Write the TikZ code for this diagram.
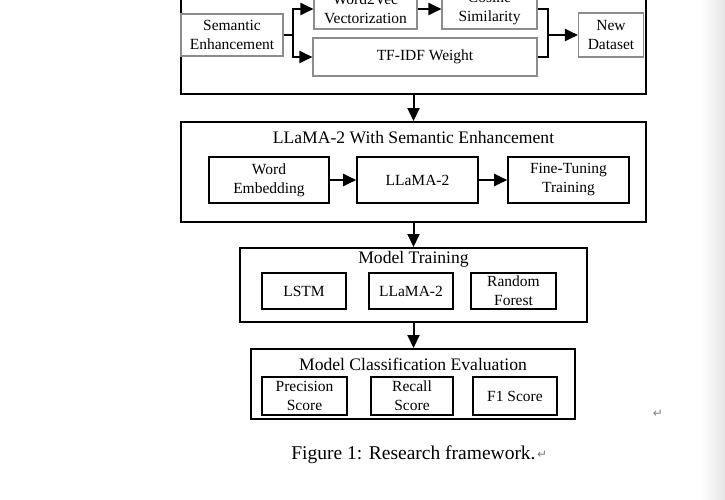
\documentclass[tikz,border=0pt]{standalone}
\usepackage{fontspec}
\setmainfont{Liberation Serif}
\newfontfamily\symfont{DejaVu Sans}
\usetikzlibrary{calc,positioning,arrows.meta}

\begin{document}
\begin{tikzpicture}[x=1pt,y=-1pt,
        stagebox/.style={draw,line width=2pt,inner sep=0pt},
        grbox/.style={draw=black!45,line width=1.1pt,inner sep=0pt,align=center,font=\fontsize{15.5}{19}\selectfont},
        blbox/.style={draw,line width=1.6pt,inner sep=0pt,align=center,font=\fontsize{15.5}{19}\selectfont},
        ttl/.style={inner sep=0pt,font=\fontsize{17.6}{20}\selectfont},
        ln/.style={line width=2pt},
        arr/.style={line width=2pt,-{Triangle[length=13pt,width=12pt]}}]
        \useasboundingbox (0,0) rectangle (725,499);
        \clip (0,0) rectangle (725,499);
        \shade[left color=white,right color=black!10] (700,0) rectangle (725,499);

        %第一部分
        \node[stagebox,minimum width=465pt,minimum height=148pt] (stage1) at (413.5,20) {};
        \node[grbox,minimum width=102pt,minimum height=42pt] (sem) at (232,35) {Semantic\\Enhancement};
        \node[grbox,minimum width=103pt,minimum height=40pt] (w2v) at (365.5,9) {Word2Vec\\Vectorization};
        \node[grbox,minimum width=95pt,minimum height=40pt] (cos) at (489.5,9) {Cosine\\Similarity};
        \node[grbox,minimum width=224pt,minimum height=38pt] (tfidf) at (425,57) {TF-IDF Weight};
        \node[grbox,minimum width=65pt,minimum height=44pt] (newds) at (611,35) {New\\Dataset};
        \coordinate (sj) at (293,35);
        \coordinate (dj) at (548,35);
        \draw[ln] (sem.east) -- (sj);
        \draw[arr] (sj) |- (w2v.west);
        \draw[arr] (sj) |- (tfidf.west);
        \draw[arr] (w2v) -- (cos);
        \draw[ln] (cos.east) -| (dj);
        \draw[ln] (tfidf.east) -| (dj);
        \draw[arr] (dj) -- (newds.west);

        %第二部分
        \node[stagebox,minimum width=465pt,minimum height=100pt] (stage2) at (413.5,172) {};
        \node[ttl] (t2) at (413.5,138) {LLaMA-2 With Semantic Enhancement};
        \node[blbox,minimum width=120pt,minimum height=46pt] (emb) at (269,180) {Word\\Embedding};
        \node[blbox,minimum width=121pt,minimum height=46pt] (llm) at (417.5,180) {LLaMA-2};
        \node[blbox,minimum width=121pt,minimum height=46pt] (ft) at (568.5,180) {Fine-Tuning\\Training};
        \draw[arr] (emb) -- (llm);
        \draw[arr] (llm) -- (ft);

        %第三部分
        \node[stagebox,minimum width=347pt,minimum height=74pt] (stage3) at (413.5,285) {};
        \node[ttl] (t3) at (413.5,259) {Model Training};
        \node[blbox,minimum width=84pt,minimum height=36pt] (lstm) at (304,291) {LSTM};
        \node[blbox,minimum width=84pt,minimum height=36pt] (llm3) at (411,291) {LLaMA-2};
        \node[blbox,minimum width=85pt,minimum height=36pt] (rf) at (513.5,291) {Random\\Forest};

        %第四部分
        \node[stagebox,minimum width=324pt,minimum height=70pt] (stage4) at (413,384) {};
        \node[ttl] (t4) at (413,364) {Model Classification Evaluation};
        \node[blbox,minimum width=85pt,minimum height=38pt] (prec) at (304.5,396) {Precision\\Score};
        \node[blbox,minimum width=82pt,minimum height=38pt] (rec) at (412,396) {Recall\\Score};
        \node[blbox,minimum width=84pt,minimum height=38pt] (f1) at (515,396) {F1 Score};

        \draw[arr] (stage1.south) -- (stage2.north);
        \draw[arr] (stage2.south) -- (stage3.north);
        \draw[arr] (stage3.south) -- (stage3.south |- stage4.north);

        \node[font=\fontsize{19.5}{22}\selectfont,inner sep=0pt] (cap) at (413.5,455) {Figure 1: Research framework.};
        \node[right=1pt of cap,inner sep=0pt,text=black!50,font=\symfont\fontsize{12}{13}\selectfont] (pm1) {↵};
        \node[inner sep=0pt,text=black!50,font=\symfont\fontsize{12}{13}\selectfont] (pm2) at (658,414) {↵};
\end{tikzpicture}
\end{document}
